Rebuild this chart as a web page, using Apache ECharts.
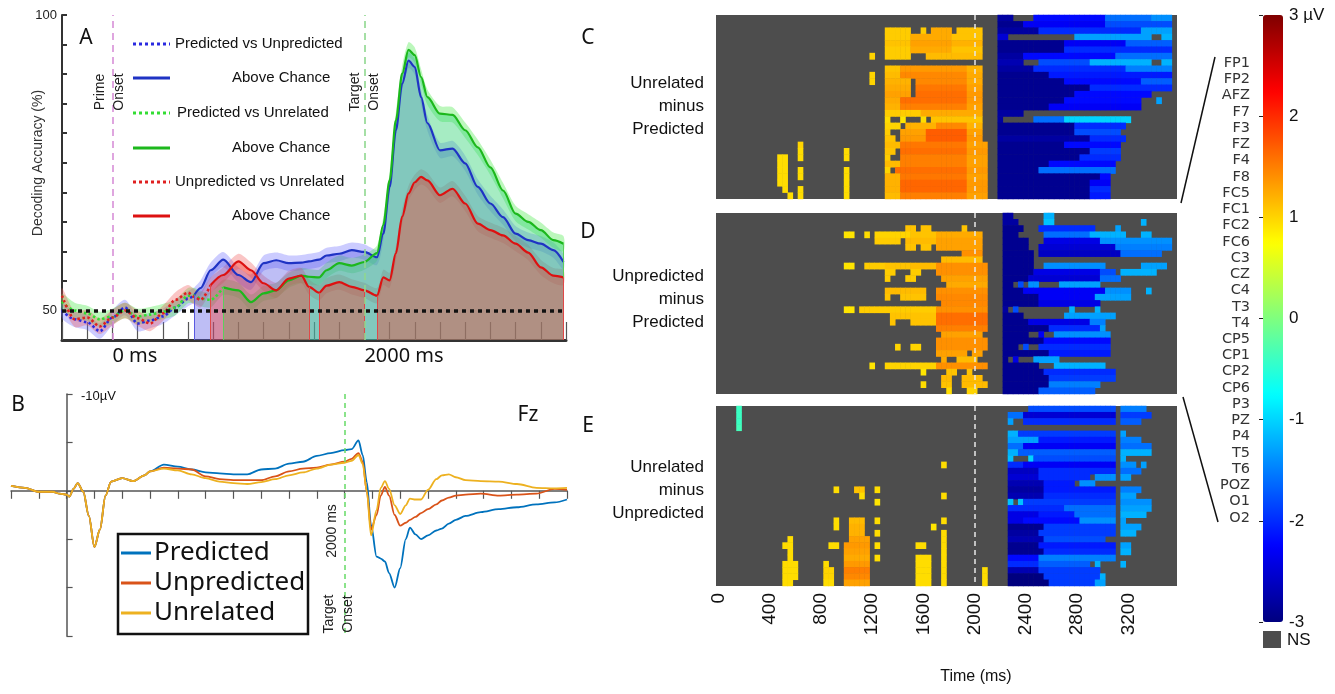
<!DOCTYPE html>
<html><head><meta charset="utf-8">
<script src="https://cdn.jsdelivr.net/npm/echarts@6/dist/echarts.min.js"></script>
<style>html,body{margin:0;padding:0;background:#fff}#c{width:1335px;height:694px}</style>
</head><body><div id="c"></div>
<script>
// ---------- Panel A: decoding accuracy ----------
const timeA = [-400,-300,-200,-100,0,100,200,300,400,500,600,650,700,780,880,1000,1100,1200,1300,1400,1500,1560,1640,1700,1800,1900,2000,2100,2150,2200,2250,2300,2350,2400,2450,2500,2600,2700,2800,2900,3000,3100,3200,3300,3400,3500,3580];
const accPredVsUnpred = [50.0,48.5,48.0,46.5,48.8,50.5,47.8,48.3,49.0,50.5,52.0,52.6,53.8,56.8,58.6,56.0,54.8,58.0,58.5,58.0,58.1,58.3,58.6,59.3,59.6,60.2,59.9,59.0,63.0,70.9,80.5,88.4,92.3,91.2,86.1,81.7,77.1,77.4,74.9,70.9,68.1,65.8,63.0,61.9,61.3,60.2,58.2];
const accPredVsUnrel = [51.5,50.0,49.5,48.5,49.0,50.0,49.0,49.3,49.8,50.5,52.5,52.5,52.0,51.8,53.9,53.4,51.4,52.9,53.4,55.1,55.9,55.7,55.6,56.8,58.0,57.6,58.2,59.7,64.5,72.0,82.2,90.1,94.1,93.2,89.5,86.1,83.3,83.1,80.5,77.6,74.2,70.3,66.4,65.0,63.6,61.9,61.3];
const accUnpredVsUnrel = [52.5,48.5,48.8,47.3,48.8,50.0,48.7,47.8,49.5,51.8,53.0,52.3,51.8,54.3,56.0,58.3,56.8,54.6,53.4,55.4,55.9,54.0,53.0,54.2,54.8,54.0,53.4,52.5,55.6,55.1,59.7,65.9,69.8,71.7,72.6,72.0,69.5,70.6,68.1,64.7,63.6,62.7,61.3,59.8,57.3,55.9,55.6];
const sigPredVsUnpred = [[650,3580]];
const sigPredVsUnrel = [[880,3580]];
const sigUnpredVsUnrel = [[780,1560],[1640,2000],[2100,3580]];
const ciHalf = 1.3;
const chanceLevel = 50;
const onsetTimes = [0, 2000];
const xLabelsA = {0:'0 ms', 2000:'2000 ms'};
const yLabelsA = [50, 100];

// ---------- Panel B: ERP at Fz ----------
const erpTime = [-400,-300,-200,-100,-50,0,20,50,80,120,160,200,240,280,320,400,480,560,600,700,800,900,1000,1100,1200,1300,1400,1500,1600,1700,1800,1900,2000,2050,2100,2130,2160,2190,2230,2260,2290,2320,2360,2400,2440,2470,2510,2550,2600,2660,2700,2750,2800,2870,2980,3110,3240,3380,3510,3600];
const erpPredicted = [-0.5,-0.3,0.1,0.1,0.3,0.4,0.6,-0.2,-0.8,0.1,2.6,5.8,4.0,0.5,-0.95,-1.3,-1.0,-1.6,-2.0,-2.7,-2.5,-2.2,-1.9,-1.8,-1.7,-1.7,-2.2,-2.3,-2.8,-3.0,-3.6,-3.9,-4.2,-4.3,-5.2,-3.7,-0.9,3.5,6.8,7.0,7.3,8.5,10.0,8.0,5.0,3.8,4.5,5.0,4.6,4.1,3.9,3.4,3.0,2.6,2.2,1.9,1.7,1.4,1.2,0.9];
const erpUnpredicted = [-0.5,-0.3,0.1,0.1,0.3,0.4,0.6,-0.2,-0.8,0.1,2.6,5.8,4.0,0.5,-0.95,-1.3,-1.0,-1.6,-2.0,-2.4,-2.3,-2.2,-1.5,-1.2,-1.1,-1.1,-1.1,-1.5,-2.0,-2.3,-2.4,-2.7,-3.0,-3.3,-3.9,-3.0,0.1,4.0,2.5,0.5,-0.4,0.5,2.5,3.6,3.3,3.0,2.7,2.3,1.9,1.4,1.0,0.7,0.5,0.4,0.3,0.5,0.4,0.3,-0.2,-0.1];
const erpUnrelated = [-0.5,-0.3,0.1,0.1,0.3,0.4,0.6,-0.2,-0.8,0.1,2.6,5.8,4.0,0.5,-0.95,-1.3,-1.0,-1.6,-2.0,-2.3,-2.1,-1.7,-1.3,-0.95,-0.8,-0.7,-0.9,-1.2,-1.6,-1.9,-2.3,-2.7,-2.9,-3.1,-3.7,-2.8,0.1,4.6,2.0,-0.3,-1.0,-0.2,1.5,2.4,1.5,0.8,0.9,0.9,-0.1,-1.2,-1.6,-1.7,-1.4,-1.1,-1.0,-0.95,-0.7,-0.3,-0.25,-0.3];
const erpNames = ['Predicted','Unpredicted','Unrelated'];

// ---------- Panels C-E: channel x time difference maps ----------
const channels = ['FP1','FP2','AFZ','F7','F3','FZ','F4','F8','FC5','FC1','FC2','FC6','C3','CZ','C4','T3','T4','CP5','CP1','CP2','CP6','P3','PZ','P4','T5','T6','POZ','O1','O2'];
const timeBins = [0,40,80,120,160,200,240,280,320,360,400,440,480,520,560,600,640,680,720,760,800,840,880,920,960,1000,1040,1080,1120,1160,1200,1240,1280,1320,1360,1400,1440,1480,1520,1560,1600,1640,1680,1720,1760,1800,1840,1880,1920,1960,2000,2040,2080,2120,2160,2200,2240,2280,2320,2360,2400,2440,2480,2520,2560,2600,2640,2680,2720,2760,2800,2840,2880,2920,2960,3000,3040,3080,3120,3160,3200,3240,3280,3320,3360,3400,3440,3480,3520,3560];
const colorTicks = [-3,-2,-1,0,1,2,3];
// significant segments per channel: [start ms, end ms, µV]
const segUnrelMinusPred = [
 [[2185,2330,-2.8],[2460,3050,-2.2],[3050,3400,-1.6],[3400,3565,-1.4]],
 [[2185,2400,-2.9],[2400,3050,-2.3],[3050,3565,-1.8]],
 [[1300,1520,1.05],[1580,1640,1.05],[1680,1820,1.25],[1890,2070,1.1],[2185,2500,-2.8],[2500,3300,-2.0],[3300,3565,-1.3]],
 [[1300,1500,1.05],[1500,1850,1.25],[1850,2070,1.1],[2185,2280,-2.5],[2800,3400,-1.3],[3480,3565,-1.2]],
 [[1300,1500,1.1],[1500,1850,1.3],[1850,2090,1.2],[2185,2700,-2.9],[2700,3200,-2.3],[3200,3565,-1.7]],
 [[1300,1500,1.05],[1500,1850,1.25],[1850,2090,1.1],[2185,2700,-2.9],[2700,3565,-2.0]],
 [[1190,1230,1.0],[1300,1500,1.05],[1620,2070,1.15],[2185,2400,-2.8],[2400,3100,-2.2],[3100,3565,-1.6]],
 [[2185,2410,-2.7],[2500,2900,-1.8],[2900,3400,-1.2],[3480,3565,-1.2]],
 [[1300,1450,1.1],[1450,1950,1.35],[1950,2090,1.2],[2185,2460,-2.8],[2460,3200,-2.0],[3200,3565,-1.5]],
 [[1190,1230,1.0],[1300,1450,1.15],[1450,1950,1.45],[1950,2090,1.25],[2185,2600,-2.9],[2600,3565,-2.1]],
 [[1190,1230,1.0],[1300,1520,1.2],[1560,1950,1.45],[1950,2090,1.25],[2185,2700,-2.9],[2700,3300,-2.2],[3300,3565,-1.7]],
 [[1300,1520,1.25],[1560,1950,1.55],[1950,2090,1.3],[2185,2900,-2.9],[2900,3565,-2.0]],
 [[1300,1520,1.3],[1560,1950,1.6],[1950,2090,1.35],[2185,2800,-2.9],[2800,3380,-2.2]],
 [[1300,1450,1.25],[1450,1950,1.6],[1950,2090,1.35],[2185,2700,-2.9],[2700,3300,-2.2],[3450,3490,-1.3]],
 [[1300,1450,1.2],[1450,1950,1.5],[1950,2090,1.3],[2185,2600,-2.9],[2600,3330,-2.3]],
 [[1300,1600,1.05],[1600,2090,1.25],[2185,2400,-2.8]],
 [[1300,1360,0.95],[1440,1470,0.9],[1610,1650,0.95],[1680,2070,1.1],[2185,2250,-2.8],[2480,2700,-1.6],[2700,3220,-1.0]],
 [[1300,1420,1.0],[1480,1700,1.2],[1700,1950,1.45],[1950,2090,1.2],[2185,2800,-2.9],[2800,3200,-2.0]],
 [[1300,1360,1.05],[1420,1650,1.3],[1650,1950,1.7],[1950,2090,1.3],[2185,2800,-2.9],[2800,3150,-1.8]],
 [[1300,1400,1.1],[1450,1650,1.35],[1650,1950,1.7],[1950,2090,1.35],[2185,2900,-2.8],[2900,3180,-2.0]],
 [[640,660,1.0],[1300,1450,1.15],[1450,1950,1.55],[1950,2100,1.3],[2185,2700,-2.9],[2700,3150,-2.2]],
 [[620,670,0.95],[1010,1040,0.95],[1300,1400,1.1],[1450,1950,1.6],[1950,2100,1.35],[2185,2900,-2.9],[2900,3150,-1.9]],
 [[490,560,0.95],[640,680,0.95],[1010,1040,0.95],[1300,1360,1.05],[1420,1950,1.5],[1950,2100,1.3],[2185,2850,-2.9],[2850,3150,-2.0]],
 [[490,560,0.95],[1300,1450,1.15],[1450,1950,1.5],[1950,2100,1.3],[2185,2600,-2.9],[2600,3100,-2.2]],
 [[490,560,0.95],[640,680,0.95],[1010,1040,0.95],[1300,1340,1.0],[1400,1950,1.6],[1950,2120,1.35],[2185,2500,-2.9],[2500,3100,-1.6]],
 [[490,560,0.95],[640,680,0.95],[990,1040,0.95],[1300,1450,1.2],[1450,1950,1.55],[1950,2120,1.3],[2185,3000,-2.9],[3000,3080,-2.2]],
 [[490,560,0.95],[990,1040,0.95],[1300,1450,1.2],[1450,1950,1.65],[1950,2120,1.35],[2185,2900,-2.9],[2900,3080,-2.3]],
 [[510,560,0.95],[620,660,0.95],[990,1040,0.95],[1300,1450,1.2],[1450,1950,1.65],[1950,2130,1.35],[2185,2900,-2.9],[2900,3080,-2.0]],
 [[540,560,0.95],[620,660,0.95],[990,1040,0.95],[1310,1450,1.15],[1450,1950,1.5],[1950,2130,1.3],[2185,2900,-2.9],[2900,3080,-2.1]]
];
const segUnpredMinusPred = [
 [[2230,2330,-2.8],[2550,2620,-1.2]],
 [[2230,2360,-2.8],[2550,2620,-1.1],[3310,3340,-1.2]],
 [[1480,1560,1.1],[1600,1680,1.1],[1900,1960,1.1],[2230,2380,-2.9],[2530,2960,-2.0],[3100,3130,-1.3]],
 [[1015,1060,0.9],[1150,1180,0.95],[1220,1500,1.0],[1500,1700,1.1],[1700,2090,1.25],[2230,2340,-2.9],[2560,2920,-1.6],[2920,3200,-1.2],[3300,3330,-1.2],[3360,3400,-1.2]],
 [[1250,1420,1.05],[1480,1700,1.15],[1720,2090,1.3],[2230,2420,-2.9],[2540,3000,-2.4],[3000,3550,-1.4]],
 [[1480,1560,1.1],[1600,1680,1.1],[1720,2090,1.3],[2230,2430,-2.9],[2530,3100,-2.5],[3100,3550,-1.5]],
 [[1900,2090,1.4],[2230,2460,-2.9],[2520,3150,-2.6],[3150,3480,-1.6]],
 [[1750,2090,1.15],[2230,2480,-2.9]],
 [[1015,1060,0.9],[1150,1300,1.05],[1300,1500,1.1],[1500,1700,1.15],[1700,2100,1.4],[2230,2480,-2.9],[2560,3050,-1.4],[3300,3500,-1.3]],
 [[1300,1400,1.05],[1500,1600,1.05],[1700,2100,1.4],[2230,2460,-2.9],[2460,3000,-2.4],[3000,3100,-1.8],[3150,3450,-1.2]],
 [[1300,1340,1.05],[1480,1540,1.05],[1750,2100,1.3],[2230,2450,-2.9],[2450,3000,-2.5],[3000,3150,-1.6]],
 [[1800,2100,1.25],[2230,2320,-2.9],[2350,2400,-1.8],[2450,2500,-1.4],[2660,3000,-1.3]],
 [[1300,1650,1.15],[1700,2100,1.4],[2230,2400,-2.9],[2400,3050,-2.3],[3050,3250,-1.4],[3340,3380,-1.2]],
 [[1300,1350,1.1],[1430,1650,1.1],[1720,2100,1.45],[2230,2500,-2.9],[2500,2950,-2.3],[2950,3250,-1.3]],
 [[1750,2100,1.45],[2230,2500,-2.9],[2500,2980,-2.4]],
 [[1015,1060,0.9],[1100,1700,1.05],[1720,2100,1.4],[2230,2280,-2.8],[2300,2330,-1.8],[2760,2800,-1.2],[2950,3000,-1.2]],
 [[1340,1700,1.1],[1700,2100,1.6],[2230,2400,-2.9],[2700,3100,-1.3]],
 [[1340,1400,1.1],[1500,1700,1.1],[1700,2110,1.6],[2230,2450,-2.9],[2450,2900,-2.4],[2900,3050,-1.5]],
 [[1700,2110,1.5],[2230,2600,-2.9],[2600,3000,-2.0],[3000,3050,-1.3]],
 [[1740,2060,1.3],[2230,2450,-2.9],[2500,2560,-2.3],[2650,3070,-1.4]],
 [[1700,2100,1.4],[2230,2550,-2.9],[2550,3070,-2.2]],
 [[1390,1420,1.0],[1500,1580,1.0],[1700,2100,1.4],[2230,2350,-2.9],[2400,2450,-1.8],[2500,3080,-2.0]],
 [[1700,1960,1.3],[2000,2090,1.3],[2230,2600,-2.9],[2600,3080,-2.1]],
 [[1750,1800,1.25],[1880,2050,1.15],[2230,2280,-2.9],[2300,2350,-2.4],[2480,2660,-1.3]],
 [[1200,1230,0.9],[1300,1700,1.0],[1700,2120,1.4],[2230,2500,-2.9],[2620,3050,-1.2]],
 [[1600,1620,0.9],[1800,1880,1.1],[1940,2000,1.1],[2230,2550,-2.9],[2550,3100,-2.0]],
 [[1740,1850,1.15],[1930,2080,1.15],[2230,2600,-2.9],[2600,3100,-1.9]],
 [[1590,1610,0.95],[1760,1840,1.1],[1900,2120,1.15],[2230,2600,-2.9],[2600,3000,-1.5]],
 [[1800,1830,0.95],[1960,2040,1.0],[2230,2500,-2.9],[2500,2950,-1.7]]
];
const segUnrelMinusUnpred = [
 [[140,200,-0.4],[2420,3100,-1.8],[3140,3360,-1.5]],
 [[140,200,-0.4],[2290,2400,-1.6],[2400,3100,-2.5],[3140,3400,-1.9]],
 [[150,210,-0.4],[2290,2330,-1.3],[2380,3100,-2.0],[3140,3300,-1.7]],
 [[160,210,-0.35]],
 [[2290,2350,-1.2],[2350,3100,-1.9],[3140,3200,-1.3]],
 [[2290,2500,-1.3],[2500,3100,-2.1],[3140,3300,-1.5]],
 [[2290,2400,-1.6],[2400,3100,-2.3],[3140,3400,-1.6]],
 [[2290,2350,-1.2],[2350,3100,-1.7],[3140,3400,-1.2]],
 [[2290,2320,-1.1],[2420,2470,-1.0],[2470,3100,-1.8],[3140,3200,-1.2]],
 [[1770,1800,0.95],[2290,2400,-2.0],[2400,3100,-2.3],[3140,3280,-1.4],[3300,3330,-1.3]],
 [[2290,2500,-2.6],[2500,3100,-2.0],[3140,3300,-1.6]],
 [[2290,2500,-2.5],[2500,2900,-2.0],[2960,3100,-1.4],[3140,3230,-1.3]],
 [[2290,2550,-2.7],[2550,2800,-2.1],[2850,2950,-1.4]],
 [[910,950,0.95],[1060,1160,1.1],[1250,1270,0.95],[2290,2550,-2.8],[2550,3100,-2.1],[3140,3300,-1.5]],
 [[1100,1130,0.95],[1770,1800,0.95],[2290,2550,-2.7],[2550,3100,-2.0],[3140,3260,-1.3]],
 [[1250,1270,0.9],[2290,2320,-1.1],[2370,2400,-1.1],[2400,3100,-1.9],[3140,3380,-1.4]],
 [[2290,2700,-2.0],[2700,3100,-1.6],[3140,3380,-1.3]],
 [[2290,2500,-2.4],[2500,2800,-2.1],[2800,3100,-1.6],[3140,3350,-1.2]],
 [[910,950,0.95],[1050,1150,1.15],[1250,1270,0.95],[1770,1800,0.95],[2290,2400,-2.4],[2400,2850,-2.2],[2850,3100,-1.4],[3140,3200,-1.3]],
 [[910,950,0.95],[1030,1160,1.2],[1660,1680,0.9],[2290,2550,-2.9],[2550,3100,-1.9],[3140,3300,-1.3]],
 [[1030,1170,1.2],[1250,1270,0.95],[1770,1800,0.95],[2290,2500,-2.8],[2500,3100,-1.9],[3140,3260,-1.2]],
 [[560,600,0.95],[1020,1180,1.3],[1770,1800,0.95],[2290,2550,-2.7],[2550,3050,-1.8]],
 [[520,600,0.95],[870,950,0.95],[1010,1190,1.35],[1250,1270,0.95],[1550,1620,0.95],[1770,1800,0.95],[2290,2500,-2.9],[2500,3100,-2.1],[3140,3250,-1.3]],
 [[560,600,0.95],[1010,1190,1.3],[1770,1800,0.95],[2290,2550,-2.9],[2550,3100,-2.0],[3140,3250,-1.2]],
 [[540,600,0.95],[1010,1190,1.25],[1250,1270,0.95],[1550,1660,0.95],[1770,1800,0.95],[2290,2500,-2.2],[2500,3100,-1.5]],
 [[520,620,0.95],[830,880,0.95],[1010,1190,1.35],[1550,1570,0.95],[1610,1660,0.95],[1770,1800,0.95],[2290,2500,-2.0],[2500,2900,-1.7],[2960,3000,-1.2],[3140,3170,-1.2]],
 [[510,620,0.95],[820,920,1.0],[1010,1190,1.5],[1550,1660,0.95],[1770,1800,0.95],[2080,2110,0.95],[2290,2500,-2.7],[2500,3000,-1.9]],
 [[500,620,0.95],[830,930,1.0],[1010,1190,1.45],[1550,1660,0.95],[1770,1800,0.95],[2080,2110,0.95],[2290,2550,-3.0],[2550,3000,-1.9],[3000,3050,-1.2]],
 [[500,600,0.95],[830,930,0.95],[1010,1190,1.3],[1550,1660,0.95],[1770,1800,0.95],[2080,2110,0.95],[2290,2600,-3.0],[2600,2960,-1.9],[2960,3050,-1.3]]
];

// ---------- build ----------
const jet = ['#00007F','#0000FF','#007FFF','#00FFFF','#7FFF7F','#FFFF00','#FF7F00','#FF0000','#7F0000'];
const binW = timeBins[1] - timeBins[0];
function expand(segs){
  const out = [];
  segs.forEach((row, r) => {
    const cells = {};
    row.forEach(([t0,t1,v]) => {
      let i0 = Math.round(t0/binW), i1 = Math.round(t1/binW) - 1;
      if (i1 < i0) i1 = i0;
      for (let i = i0; i <= i1; i++) if (i >= 0 && i < timeBins.length) cells[i] = v;
    });
    Object.keys(cells).forEach(i => out.push([+i, r, cells[i]]));
  });
  return out;
}
const pts = (vals) => timeA.map((t,i) => [t, vals[i]]);
const win = (vals, w) => pts(vals).filter(p => p[0] >= w[0] && p[0] <= w[1]);
const valAt = (vals, t) => vals[timeA.indexOf(t)];

const clsA = [
  {vals: accPredVsUnpred, sig: sigPredVsUnpred, line:'#1f33c4', dot:'#2a2ae0', band:'rgba(110,110,255,0.35)', fill:'rgba(92,92,230,0.40)', edge:'#5a5ae0'},
  {vals: accPredVsUnrel, sig: sigPredVsUnrel, line:'#1cb81c', dot:'#33dd33', band:'rgba(80,235,80,0.38)', fill:'rgba(57,212,122,0.45)', edge:'#5ccf5c'},
  {vals: accUnpredVsUnrel, sig: sigUnpredVsUnrel, line:'#dd1111', dot:'#e02020', band:'rgba(240,90,90,0.35)', fill:'rgba(245,60,45,0.40)', edge:'#e04848'}
];
const series = [];
const sm = {smooth: 0.3, smoothMonotone: 'x', showSymbol: false, silent: true, xAxisIndex: 0, yAxisIndex: 0};
const yMinA = 45;
// fills under significant stretches, with thin edge lines at window limits
clsA.forEach(c => c.sig.forEach(w => series.push(Object.assign({type:'line', data: win(c.vals, w), lineStyle:{width:0},
  areaStyle:{color:c.fill, origin:'start', opacity:1},
  markLine:{symbol:'none', silent:true, label:{show:false}, animation:false, lineStyle:{color:c.edge, width:1, type:'solid'},
    data: w.map(t => [{coord:[t, yMinA]}, {coord:[t, valAt(c.vals, t)]}])}}, sm))));
// confidence bands (polygon through the axis scales)
clsA.forEach(c => {
  series.push({type:'custom', xAxisIndex:0, yAxisIndex:0, silent:true, data: [[timeA[0], c.vals[0]]],
    renderItem: (params, api) => {
      const up = c.vals.map((v,i) => api.coord([timeA[i], v + ciHalf]));
      const lo = c.vals.map((v,i) => api.coord([timeA[i], v - ciHalf])).reverse();
      return {type:'polygon', shape:{points: up.concat(lo), smooth: 0.25}, style:{fill: c.band}};
    }});
});
// lines: dotted before significance, solid after
clsA.forEach(c => {
  const s0 = c.sig[0][0];
  series.push(Object.assign({type:'line', data: pts(c.vals).filter(p => p[0] <= s0), lineStyle:{color:c.dot, width:2.6, type:[2.5,2.5]}}, sm));
  series.push(Object.assign({type:'line', data: pts(c.vals).filter(p => p[0] >= s0), lineStyle:{color:c.line, width:2.2}}, sm));
});
series[series.length-1].markLine = {
  symbol:'none', silent:true, label:{show:false}, animation:false,
  data: [
    {xAxis: onsetTimes[0], lineStyle:{color:'#d890d8', type:[7,5], width:1.6}},
    {xAxis: onsetTimes[1], lineStyle:{color:'#8fd88f', type:[7,5], width:1.6}},
    {yAxis: chanceLevel, lineStyle:{color:'#111', type:[4,4], width:3.5}}
  ]
};
// ERP
const erpColors = ['#0072BD','#D95319','#EDB120'];
[erpPredicted, erpUnpredicted, erpUnrelated].forEach((v,k) => {
  series.push({type:'line', name: erpNames[k], xAxisIndex:1, yAxisIndex:1, smooth:0.3, smoothMonotone:'x', showSymbol:false, silent:true,
    data: erpTime.map((t,i) => [t, v[i]]), lineStyle:{color: erpColors[k], width:1.8}});
});
series[series.length-1].markLine = {symbol:'none', silent:true, label:{show:false}, animation:false,
  data:[{xAxis: onsetTimes[1], lineStyle:{color:'#6fdc6f', type:[5,4], width:1.6}}]};
// heatmaps
const heatIdx = [];
[segUnrelMinusPred, segUnpredMinusPred, segUnrelMinusUnpred].forEach((segs,k) => {
  heatIdx.push(series.length);
  series.push({type:'heatmap', xAxisIndex:2+k, yAxisIndex:2+k, data: expand(segs), silent:true, emphasis:{disabled:true},
    markLine:{symbol:'none', silent:true, label:{show:false}, animation:false,
      data:[{xAxis: String(onsetTimes[1])}], lineStyle:{color:'#e8e8e8', type:[5,4], width:1.5}}});
});

const heatGrids = [{top:15, height:184},{top:213, height:181},{top:406, height:180}];
const grid = [
  {left:62, top:15, width:504, height:325, show:false},
  {left:11, top:394, width:556, height:242, show:false},
  ...heatGrids.map(g => ({left:716, top:g.top, width:461, height:g.height, show:true, backgroundColor:'#4d4d4d', borderWidth:0})),
  {left:1263, top:15, width:20, height:607, show:false},
  {left:1252, top:55, width:1, height:471, show:false}
];
const xAxis = [
  {type:'value', gridIndex:0, min:-400, max:3600, interval:200,
    axisLine:{onZero:false, lineStyle:{color:'#333', width:3}},
    axisTick:{inside:true, length:18, lineStyle:{color:'#555', width:1.2}},
    axisLabel:{formatter: v => xLabelsA[v] || '', align:'left', fontFamily:'Noto Sans', fontSize:20, color:'#111', margin:6},
    splitLine:{show:false}},
  {type:'value', gridIndex:1, min:-400, max:3600, interval:200,
    axisLine:{onZero:true, lineStyle:{color:'#555', width:1.5}},
    axisTick:{length:8, lineStyle:{color:'#555', width:1.2}},
    axisLabel:{show:false}, splitLine:{show:false}},
  ...[0,1,2].map(k => ({type:'category', gridIndex:2+k, data: timeBins.map(String),
    axisLine:{show:false}, axisTick:{show:false}, splitLine:{show:false},
    axisLabel: k === 2 ? {show:true, interval:9, rotate:90, fontSize:19, color:'#111', margin:7} : {show:false}})),
  {type:'value', gridIndex:5, show:false, min:0, max:1},
  {type:'value', gridIndex:6, show:false, min:0, max:1}
];
const yAxis = [
  {type:'value', gridIndex:0, min:yMinA, max:100, interval:5,
    axisLine:{show:true, onZero:false, lineStyle:{color:'#333', width:2}},
    axisTick:{show:true, inside:true, length:5, lineStyle:{color:'#333', width:2}},
    axisLabel:{formatter: v => yLabelsA.includes(v) ? String(v) : '', fontSize:13, color:'#222', margin:5},
    splitLine:{show:false}},
  {type:'value', gridIndex:1, min:-10, max:15, interval:5, inverse:true,
    axisLine:{show:true, onZero:true, lineStyle:{color:'#555', width:1.5}},
    axisTick:{show:true, inside:true, length:6, lineStyle:{color:'#555', width:1.2}},
    axisLabel:{show:false}, splitLine:{show:false}},
  ...[0,1,2].map(k => ({type:'category', gridIndex:2+k, data: channels, inverse:true, show:false})),
  {type:'value', gridIndex:5, min:-3, max:3, interval:1, position:'right', z:10,
    axisLine:{show:false}, axisTick:{show:true, inside:true, length:4, lineStyle:{color:'#222', width:1}},
    axisLabel:{formatter: v => v === colorTicks[colorTicks.length-1] ? v + ' µV' : String(v), fontSize:17, color:'#111', margin:6},
    splitLine:{show:false}},
  {type:'category', gridIndex:6, data: channels, inverse:true, position:'left',
    axisLine:{show:false}, axisTick:{show:false},
    axisLabel:{fontFamily:'DejaVu Sans', fontSize:14.5, color:'#333', margin:2, interval:0}}
];

// ---------- annotations ----------
const T = (x,y,text,font,opt={}) => ({type:'text', x, y, rotation: opt.rot || 0, silent:true, z:100,
  style:{text, font, fill: opt.fill || '#111', align: opt.align || 'center', verticalAlign: opt.va || 'middle', lineHeight: opt.lh}});
const L = (x1,y1,x2,y2,stroke,w,dash) => ({type:'line', silent:true, z:100, shape:{x1,y1,x2,y2}, style:{stroke, lineWidth:w, lineDash: dash || null}});
const legA = [
  ['Predicted vs Unpredicted', 175, 0, true], ['Above Chance', 232, 0, false],
  ['Predicted vs Unrelated', 177, 1, true], ['Above Chance', 232, 1, false],
  ['Unpredicted vs Unrelated', 175, 2, true], ['Above Chance', 232, 2, false]
];
const legAY = [44, 78, 113, 148, 182, 216];
const graphic = [];
legA.forEach((e,i) => {
  const c = clsA[e[2]];
  graphic.push(L(133, legAY[i], 170, legAY[i], e[3] ? c.dot : c.line, 3, e[3] ? [3,3] : null));
  graphic.push(T(e[1], legAY[i], e[0], '15px Liberation Sans', {align:'left'}));
});
graphic.push(
  T(86, 38, 'A', '21px Noto Sans'),
  T(38, 163, 'Decoding Accuracy (%)', '14px Liberation Sans', {rot: Math.PI/2, fill:'#333'}),
  T(110, 92, 'Prime\nOnset', '14px Liberation Sans', {rot: Math.PI/2, lh: 19, fill:'#222'}),
  T(365, 92, 'Target\nOnset', '14px Liberation Sans', {rot: Math.PI/2, lh: 19, fill:'#222'}),
  T(18, 405, 'B', '21px Noto Sans'),
  T(81, 396, '-10µV', '13px Liberation Sans', {align:'left'}),
  T(528, 415, 'Fz', '21px Noto Sans'),
  T(332, 531, '2000 ms', '14px Liberation Sans', {rot: Math.PI/2, fill:'#222'}),
  T(339, 614, 'Target\nOnset', '14px Liberation Sans', {rot: Math.PI/2, lh: 19, fill:'#222'}),
  {type:'rect', z:99, silent:true, shape:{x:118, y:534, width:190, height:100}, style:{fill:'#fff', stroke:'#111', lineWidth:2.5}}
);
[553, 583, 613].forEach((y,k) => {
  graphic.push(L(121, y, 151, y, erpColors[k], 3));
  graphic.push(T(154, y, erpNames[k], '26px Noto Sans', {align:'left'}));
});
graphic.push(
  T(588, 38, 'C', '21px Noto Sans'), T(588, 232, 'D', '21px Noto Sans'), T(588, 426, 'E', '21px Noto Sans'),
  T(704, 106, 'Unrelated\nminus\nPredicted', '17px Liberation Sans', {align:'right', lh:23}),
  T(704, 299, 'Unpredicted\nminus\nPredicted', '17px Liberation Sans', {align:'right', lh:23}),
  T(704, 490, 'Unrelated\nminus\nUnpredicted', '17px Liberation Sans', {align:'right', lh:23}),
  T(976, 677, 'Time (ms)', '16px Liberation Sans'),
  L(1181, 203, 1215, 57, '#111', 1.5),
  L(1183, 397, 1218, 522, '#111', 1.5),
  {type:'rect', z:100, silent:true, shape:{x:1263, y:631, width:18, height:17}, style:{fill:'#4d4d4d'}},
  T(1287, 640, 'NS', '17px Liberation Sans', {align:'left'})
);

const chart = echarts.init(document.getElementById('c'), null, {renderer:'canvas'});
chart.setOption({
  animation:false,
  backgroundColor:'#fff',
  textStyle:{fontFamily:'Liberation Sans'},
  grid, xAxis, yAxis, series, graphic,
  visualMap:{type:'continuous', min:-3, max:3, seriesIndex: heatIdx, inRange:{color: jet},
    left:1263, top:15, itemWidth:20, itemHeight:607, padding:0, calculable:false, hoverLink:false, orient:'vertical'}
});
</script></body></html>
